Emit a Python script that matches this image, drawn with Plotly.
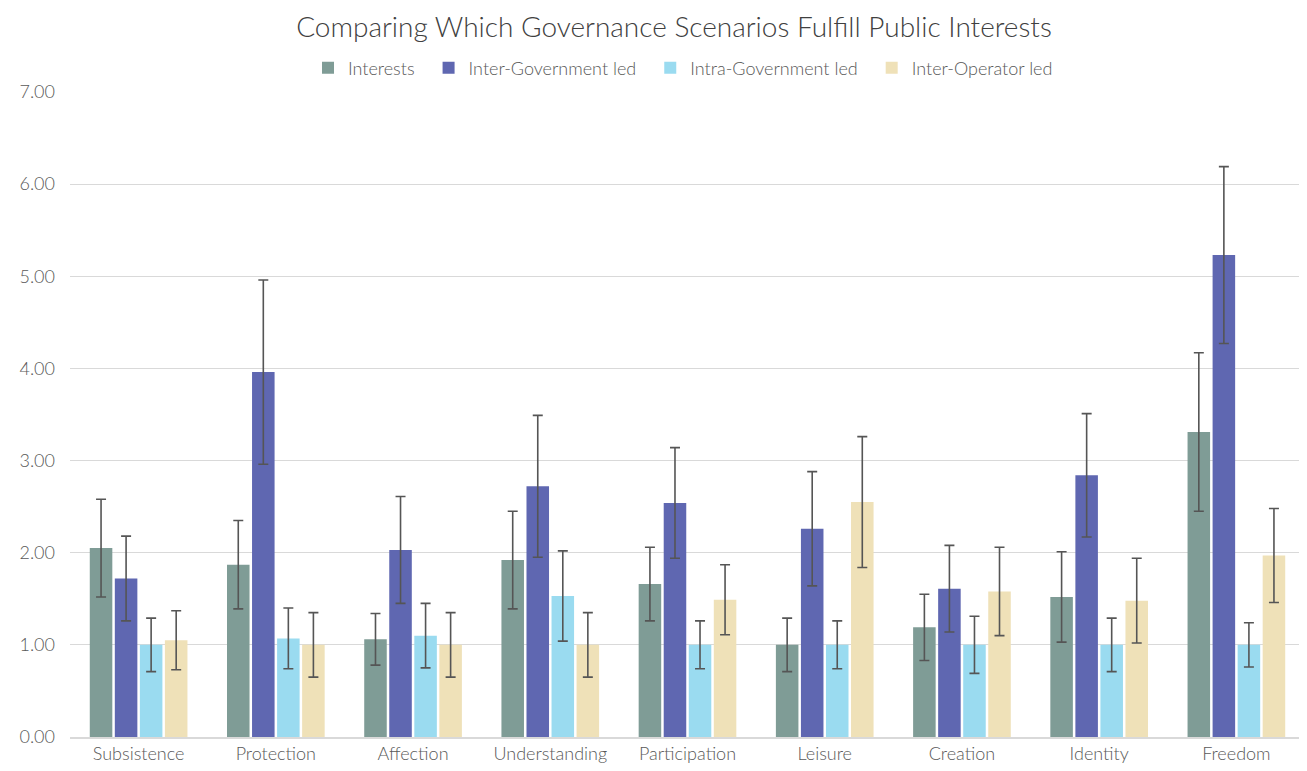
import plotly.graph_objects as go

categories = ["Subsistence", "Protection", "Affection", "Understanding", "Participation",
              "Leisure", "Creation", "Identity", "Freedom"]

interests = [2.05, 1.87, 1.06, 1.92, 1.66, 1.00, 1.19, 1.52, 3.31]
interests_err = [0.53, 0.48, 0.28, 0.53, 0.40, 0.29, 0.36, 0.49, 0.86]

inter_gov = [1.72, 3.96, 2.03, 2.72, 2.54, 2.26, 1.61, 2.84, 5.23]
inter_gov_err = [0.46, 1.00, 0.58, 0.77, 0.60, 0.62, 0.47, 0.67, 0.96]

intra_gov = [1.00, 1.07, 1.10, 1.53, 1.00, 1.00, 1.00, 1.00, 1.00]
intra_gov_err = [0.29, 0.33, 0.35, 0.49, 0.26, 0.26, 0.31, 0.29, 0.24]

inter_op = [1.05, 1.00, 1.00, 1.00, 1.49, 2.55, 1.58, 1.48, 1.97]
inter_op_err = [0.32, 0.35, 0.35, 0.35, 0.38, 0.71, 0.48, 0.46, 0.51]

series = [
    ("Interests", interests, interests_err, "#7F9C96"),
    ("Inter-Government led", inter_gov, inter_gov_err, "#5F67B1"),
    ("Intra-Government led", intra_gov, intra_gov_err, "#9ADBF0"),
    ("Inter-Operator led", inter_op, inter_op_err, "#EFE1B8"),
]

FONT = "Lato"
# page body has an 8px margin, so the figure is sized to the visible area
W, H = 1299, 763

fig = go.Figure()
for name, vals, errs, color in series:
    fig.add_trace(go.Bar(
        x=categories, y=vals, name=name + "\u2002",
        marker=dict(color=color, line=dict(width=0)),
        error_y=dict(type="data", array=errs, visible=True,
                     color="#555555", thickness=1.6, width=5),
    ))

fig.update_layout(
    width=W, height=H,
    paper_bgcolor="white", plot_bgcolor="white",
    barmode="group", bargap=0.27, bargroupgap=0.1,
    margin=dict(l=62, r=2, t=84, b=34, autoexpand=False),
    font=dict(family=FONT, size=18, color="#595959", weight=300),
    title=dict(text="Comparing Which Governance Scenarios Fulfill Public Interests",
               x=(674 - 8) / W, xanchor="center", xref="container",
               y=1 - 19 / H, yref="container", yanchor="middle",
               font=dict(family=FONT, size=28, color="#404040", weight=300)),
    legend=dict(orientation="h", x=0.5, xanchor="center", y=1 + 24 / 645, yanchor="middle",
                font=dict(size=18, color="#595959"), itemwidth=30, traceorder="normal"),
    xaxis=dict(showgrid=False, showline=True, linecolor="#d9d9d9", linewidth=1.5,
               ticks="", automargin=False, tickfont=dict(size=18, color="#595959")),
    yaxis=dict(range=[0, 7], dtick=1, tickformat=".2f", showgrid=True,
               gridcolor="#d9d9d9", gridwidth=1.2, zeroline=False, automargin=False,
               ticks="", ticklabelstandoff=14, tickfont=dict(size=18, color="#595959")),
)

fig.write_html("out.html")
